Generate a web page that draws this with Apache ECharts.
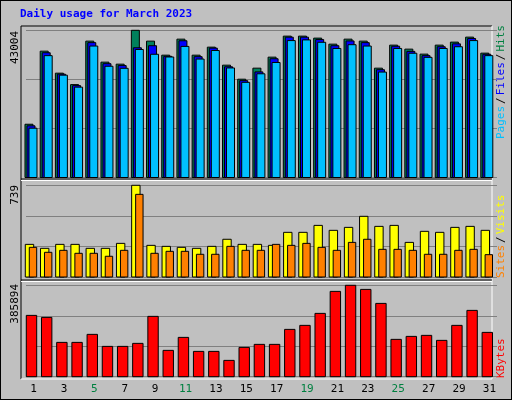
<!DOCTYPE html>
<html>
<head>
<meta charset="utf-8">
<script src="https://cdn.jsdelivr.net/npm/echarts@6/dist/echarts.min.js"></script>
<style>
html, body { margin: 0; padding: 0; }
#chart { width: 510px; height: 398px; border: 1px solid #000; background: #c0c0c0; }
</style>
</head>
<body>
<div id="chart"></div>
<script>
const days = ['1','2','3','4','5','6','7','8','9','10','11','12','13','14','15','16','17','18','19','20','21','22','23','24','25','26','27','28','29','30','31'];
const weekends = ['4','5','11','12','18','19','25','26'];

const hits = [15560,36910,30480,27140,39840,33700,33110,43004,39840,35740,40420,35740,38080,32820,28720,31940,35160,41300,41300,40720,38960,40420,39840,31940,38670,37500,36040,38670,39550,41010,36330];
const files = [15100,36450,30200,26850,39400,33250,32700,37900,38500,35400,39950,35300,37800,32350,28300,30850,34700,41000,41000,40300,38500,39900,39400,31500,38350,36850,35600,38200,39050,40600,36000];
const pages = [14400,35600,29900,26400,38400,32500,31900,37400,36000,35200,38300,34600,37100,32000,27800,30300,33600,40000,40200,39500,37700,38800,38400,30800,37700,36300,35100,37700,38200,40000,35600];

const visits = [263,231,263,263,231,231,271,739,255,247,239,231,247,304,263,263,255,360,360,416,376,400,489,408,416,279,368,360,400,408,376];
const sites = [239,199,215,191,191,167,215,666,191,207,207,183,183,247,215,215,263,255,271,239,215,279,304,223,223,215,183,183,215,223,180];

const kbytes = [258900,250400,144900,144900,178700,128000,128000,140700,254700,111200,166000,106900,106900,68900,123800,136500,136500,199800,216700,267300,360200,385894,368600,309500,157600,170200,174500,153400,216700,280000,187100];

const maxHits = 43004;
const maxVisits = 739;
const maxKB = 385894;

const chart = echarts.init(document.getElementById('chart'));
const mono = 'DejaVu Sans Mono';

// bars drawn as offset rects relative to the category center
function barSeries(gridIndex, data, color, offset, width) {
	return {
		type: 'custom',
		xAxisIndex: gridIndex,
		yAxisIndex: gridIndex,
		data: data.map((v, i) => [i, v]),
		renderItem(params, api) {
			const top = api.coord([api.value(0), api.value(1)]);
			const base = api.coord([api.value(0), 0]);
			return {
				type: 'rect',
				shape: { x: top[0] + offset, y: top[1], width, height: base[1] - top[1] },
				style: { fill: color, stroke: '#000', lineWidth: 1 }
			};
		}
	};
}

const grids = [
	{ top: 29.3, height: 147.2 },
	{ top: 184.3, height: 91.7 },
	{ top: 284.3, height: 91.4 }
];
const maxes = [maxHits, maxVisits, maxKB];

chart.setOption({
	animation: false,
	grid: grids.map(g => ({ left: 25, width: 471, top: g.top, height: g.height })),
	xAxis: grids.map((g, i) => ({
		type: 'category',
		gridIndex: i,
		data: days,
		axisLine: { show: false },
		axisTick: { show: false },
		axisLabel: i === 2 ? {
			margin: 7,
			fontFamily: mono,
			fontSize: 11,
			color: (v) => weekends.includes(v) ? '#008040' : '#000'
		} : { show: false }
	})),
	yAxis: maxes.map((m, i) => ({
		type: 'value',
		gridIndex: i,
		min: 0,
		max: m,
		interval: m / 3,
		axisLine: { show: false },
		axisTick: { show: false },
		axisLabel: { show: false },
		splitLine: { lineStyle: { color: '#808080', width: 1 } }
	})),
	graphic: [
		{ type: 'text', left: 19, top: 8, style: { text: 'Daily usage for March 2023', fill: '#0000ff', font: 'bold 11px ' + mono } },
		// frame
		{ type: 'line', shape: { x1: 20, y1: 25, x2: 491, y2: 25 }, style: { stroke: '#000' } },
		{ type: 'line', shape: { x1: 20, y1: 25, x2: 20, y2: 378 }, style: { stroke: '#000' } },
		{ type: 'line', shape: { x1: 491, y1: 25, x2: 491, y2: 378 }, style: { stroke: '#fff' } },
		{ type: 'line', shape: { x1: 20, y1: 378, x2: 491, y2: 378 }, style: { stroke: '#fff' } },
		{ type: 'line', shape: { x1: 20, y1: 178, x2: 491, y2: 178 }, style: { stroke: '#000' }, z: 10 },
		{ type: 'line', shape: { x1: 20, y1: 179.5, x2: 491, y2: 179.5 }, style: { stroke: '#fff' }, z: 10 },
		{ type: 'line', shape: { x1: 20, y1: 279, x2: 491, y2: 279 }, style: { stroke: '#000' }, z: 10 },
		{ type: 'line', shape: { x1: 20, y1: 280.5, x2: 491, y2: 280.5 }, style: { stroke: '#fff' }, z: 10 },
		// left max labels
		{ type: 'text', x: 9, y: 30, rotation: Math.PI / 2, style: { text: String(maxHits), fill: '#000', font: '11px ' + mono, align: 'right', verticalAlign: 'top' } },
		{ type: 'text', x: 9, y: 184, rotation: Math.PI / 2, style: { text: String(maxVisits), fill: '#000', font: '11px ' + mono, align: 'right', verticalAlign: 'top' } },
		{ type: 'text', x: 9, y: 283, rotation: Math.PI / 2, style: { text: String(maxKB), fill: '#000', font: '11px ' + mono, align: 'right', verticalAlign: 'top' } },
		// right legends
		{ type: 'text', x: 495, y: 138, rotation: Math.PI / 2, style: {
			text: '{p|Pages}{s|/}{f|Files}{s|/}{h|Hits}', align: 'left', verticalAlign: 'top',
			rich: {
				p: { fill: '#00c0ff', font: '11px ' + mono },
				f: { fill: '#0000ff', font: '11px ' + mono },
				h: { fill: '#008040', font: '11px ' + mono },
				s: { fill: '#000', font: '11px ' + mono, padding: [0, 2] }
			}
		} },
		{ type: 'text', x: 495, y: 277, rotation: Math.PI / 2, style: {
			text: '{a|Sites}{s|/}{b|Visits}', align: 'left', verticalAlign: 'top',
			rich: {
				a: { fill: '#ff8000', font: '11px ' + mono },
				b: { fill: '#ffff00', font: '11px ' + mono },
				s: { fill: '#000', font: '11px ' + mono, padding: [0, 2] }
			}
		} },
		{ type: 'text', x: 495, y: 377, rotation: Math.PI / 2, style: { text: 'KBytes', fill: '#ff0000', font: '11px ' + mono, align: 'left', verticalAlign: 'top' } }
	],
	series: [
		barSeries(0, hits, '#00805c', -8.6, 8),
		barSeries(0, files, '#0000ff', -6.6, 8),
		barSeries(0, pages, '#00c0ff', -4.6, 8),
		barSeries(1, visits, '#ffff00', -8.3, 8.4),
		barSeries(1, sites, '#ff8000', -4.3, 7.4),
		barSeries(2, kbytes, '#ff0000', -7.3, 10.4)
	]
});
</script>
</body>
</html>
